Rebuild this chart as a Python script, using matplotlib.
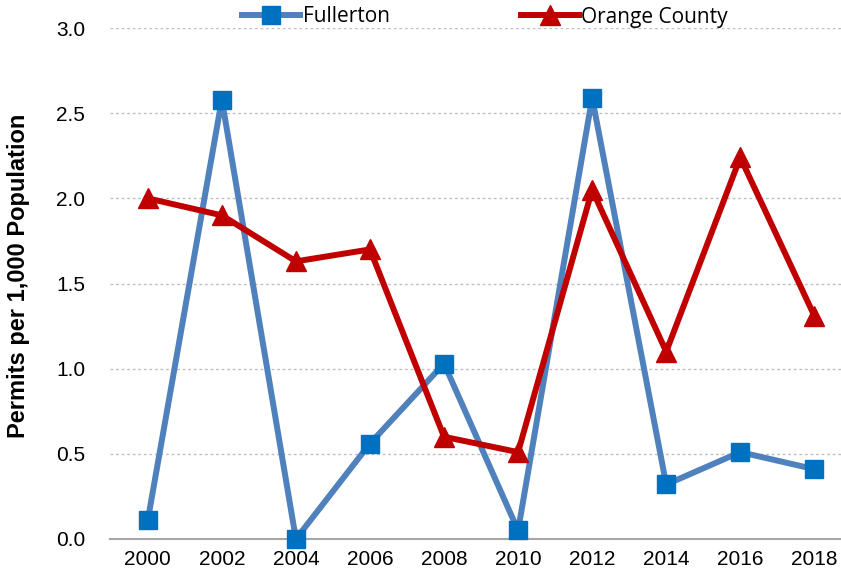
import matplotlib
matplotlib.use("Agg")
import matplotlib.pyplot as plt

years = ["2000", "2002", "2004", "2006", "2008", "2010", "2012", "2014", "2016", "2018"]
fullerton = [0.11, 2.58, 0.0, 0.56, 1.03, 0.05, 2.59, 0.32, 0.51, 0.41]
orange_county = [2.00, 1.90, 1.63, 1.70, 0.60, 0.51, 2.05, 1.10, 2.24, 1.31]
yticks = [0.0, 0.5, 1.0, 1.5, 2.0, 2.5, 3.0]

tick_font = "Liberation Sans"

fig = plt.figure(figsize=(8.41, 5.83), dpi=100)
ax = fig.add_axes([110/841, 1-539/583, (841-110)/841, (539-28)/583])

x = list(range(len(years)))
ax.plot(x, fullerton, color="#4F81BD", lw=4.3, marker="s", ms=13,
        markerfacecolor="#0070C0", markeredgecolor="#0070C0", label="Fullerton", zorder=3, clip_on=False)
ax.plot(x, orange_county, color="#C00000", lw=4.3, marker="^", ms=14,
        markerfacecolor="#C00000", markeredgecolor="#C00000", label="Orange County", zorder=3, clip_on=False)

ax.set_ylim(0, 3.0)
ax.set_xlim(-0.51, 9.36)
ax.set_yticks(yticks)
ax.set_yticklabels([f"{v:.1f}" for v in yticks], fontfamily=tick_font, fontsize=15)
ax.set_xticks(x)
ax.set_xticklabels(years, fontfamily=tick_font, fontsize=15)
ax.tick_params(axis="both", length=0, pad=8)
ax.tick_params(axis="y", pad=18)

ax.grid(axis="y", color="#BFBFBF", linestyle=(0, (2, 2)), lw=1)
ax.set_axisbelow(True)
for s in ["top", "right", "left"]:
    ax.spines[s].set_visible(False)
ax.spines["bottom"].set_color("#A6A6A6")
ax.spines["bottom"].set_linewidth(1.5)

ax.set_ylabel("Permits per 1,000 Population", fontfamily="Liberation Sans", fontweight="bold", fontsize=17)
ax.yaxis.set_label_coords(-80/731, 0.515)

fig.legend(loc="center", bbox_to_anchor=(485/841, 1-17/583), ncol=2, frameon=False,
           prop={"family": "Open Sans", "size": 15}, handlelength=2.8, columnspacing=6.3,
           handletextpad=0.1, borderpad=0)

fig.savefig("out.png", dpi=100)
